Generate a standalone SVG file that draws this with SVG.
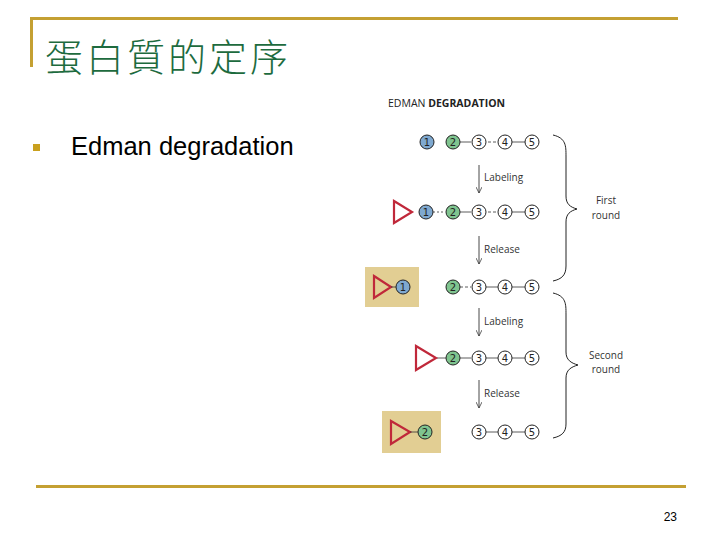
<svg xmlns="http://www.w3.org/2000/svg" width="720" height="540" viewBox="0 0 720 540">
<defs>
<style>
.res{stroke:#222;stroke-width:1;fill:#fff}
.b{fill:#7fa9d0}
.g{fill:#7fc48f}
.num{font-family:"DejaVu Sans","Liberation Sans",sans-serif;font-size:10px;fill:#222;text-anchor:middle}
.lab{font-family:"Open Sans","Liberation Sans",sans-serif;font-size:10px;fill:#333}
.bond{stroke:#333;stroke-width:0.8}
.tri{fill:none;stroke:#c0283a;stroke-width:2.2;stroke-linejoin:miter}
.box{fill:#e2ce93}
.arr{stroke:#333;stroke-width:0.9;fill:none}
.brace{stroke:#222;stroke-width:1;fill:none}
</style>
<marker id="ah" viewBox="0 0 8 8" refX="8" refY="4" markerWidth="6" markerHeight="6" orient="auto" markerUnits="userSpaceOnUse">
<path d="M0,0 L8,4 L0,8" fill="none" stroke="#333" stroke-width="1"/>
</marker>
</defs>
<rect width="720" height="540" fill="#fff"/>
<g id="frame">
<rect x="30" y="17" width="648" height="3" fill="#c4a032"/>
<rect x="30" y="17" width="3" height="50" fill="#c4a032"/>
<rect x="36" y="485" width="650" height="3" fill="#c4a032"/>
</g>
<g id="title">
<text x="45" y="71" font-family="Noto Sans CJK TC, Noto Sans CJK SC, sans-serif" font-size="38" font-weight="300" fill="#1d6b3e" letter-spacing="3">蛋白質的定序</text>
</g>
<g id="bullet">
<rect x="33" y="144" width="7" height="7" fill="#c9a01e"/>
<text x="71" y="155" font-family="Liberation Sans, Arial, sans-serif" font-size="25.5" fill="#000">Edman degradation</text>
</g>
<text id="page" x="677" y="521" font-family="Liberation Sans, Arial, sans-serif" font-size="12" fill="#000" text-anchor="end">23</text>
<g id="heading">
<text x="388" y="107" font-family="Open Sans, Liberation Sans, sans-serif" font-size="10.5" fill="#222">EDMAN <tspan font-weight="bold">DEGRADATION</tspan></text>
</g>
<g id="connectors">
<line class="bond" x1="460" y1="142" x2="471" y2="142"/>
<line class="bond" x1="488" y1="142" x2="498" y2="142" stroke-dasharray="3,2"/>
<line class="bond" x1="512" y1="142" x2="525" y2="142"/>
<line class="bond" x1="433" y1="212" x2="445" y2="212" stroke-dasharray="2,2"/>
<line class="bond" x1="460" y1="212" x2="471" y2="212"/>
<line class="bond" x1="488" y1="212" x2="498" y2="212" stroke-dasharray="3,2"/>
<line class="bond" x1="512" y1="212" x2="525" y2="212"/>
<line class="bond" x1="460" y1="287" x2="471" y2="287" stroke-dasharray="3,2"/>
<line class="bond" x1="486" y1="287" x2="498" y2="287"/>
<line class="bond" x1="512" y1="287" x2="525" y2="287"/>
<line class="bond" x1="437" y1="358" x2="446" y2="358"/>
<line class="bond" x1="460" y1="358" x2="471" y2="358"/>
<line class="bond" x1="486" y1="358" x2="498" y2="358"/>
<line class="bond" x1="512" y1="358" x2="525" y2="358"/>
<line class="bond" x1="486" y1="432" x2="498" y2="432"/>
<line class="bond" x1="512" y1="432" x2="525" y2="432"/>
<line class="arr" x1="479" y1="165" x2="479" y2="193" marker-end="url(#ah)"/>
<line class="arr" x1="479" y1="236" x2="479" y2="264" marker-end="url(#ah)"/>
<line class="arr" x1="479" y1="308" x2="479" y2="336" marker-end="url(#ah)"/>
<line class="arr" x1="479" y1="380" x2="479" y2="408" marker-end="url(#ah)"/>
<path class="brace" d="M553,135 C566,138 566,146 566,156 L566,196 C566,204 570,207 577,209 C570,211 566,214 566,222 L566,266 C566,275 562,279 553,281"/>
<path class="brace" d="M553,293 C566,296 566,304 566,314 L566,352 C566,360 571,363 578,365 C571,367 566,370 566,378 L566,424 C566,432 562,436 553,438"/>
</g>
<g id="labels">
<text class="lab" x="484" y="181">Labeling</text>
<text class="lab" x="484" y="253">Release</text>
<text class="lab" x="484" y="325">Labeling</text>
<text class="lab" x="484" y="397">Release</text>
<text class="lab" x="606" y="204" text-anchor="middle" font-size="11.5">First</text>
<text class="lab" x="606" y="219" text-anchor="middle" font-size="11.5">round</text>
<text class="lab" x="606" y="359" text-anchor="middle" font-size="11.5">Second</text>
<text class="lab" x="606" y="373" text-anchor="middle" font-size="11.5">round</text>
</g>
<g id="row1">
<circle class="res b" cx="427" cy="142" r="7"/><text class="num" x="427" y="145.5">1</text>
<circle class="res g" cx="453" cy="142" r="7"/><text class="num" x="453" y="145.5">2</text>
<circle class="res" cx="479" cy="142" r="7"/><text class="num" x="479" y="145.5">3</text>
<circle class="res" cx="505" cy="142" r="7"/><text class="num" x="505" y="145.5">4</text>
<circle class="res" cx="532" cy="142" r="7"/><text class="num" x="532" y="145.5">5</text>
</g>
<g id="row2">
<path class="tri" d="M394,201 L412,212 L394,223 Z"/>
<circle class="res b" cx="426" cy="212" r="7"/><text class="num" x="426" y="215.5">1</text>
<circle class="res g" cx="453" cy="212" r="7"/><text class="num" x="453" y="215.5">2</text>
<circle class="res" cx="479" cy="212" r="7"/><text class="num" x="479" y="215.5">3</text>
<circle class="res" cx="505" cy="212" r="7"/><text class="num" x="505" y="215.5">4</text>
<circle class="res" cx="532" cy="212" r="7"/><text class="num" x="532" y="215.5">5</text>
</g>
<g id="row3">
<rect class="box" x="365" y="267" width="54" height="40"/>
<path class="tri" d="M374,276 L391,287 L374,298 Z" stroke="#cc3322"/>
<line class="bond" x1="391" y1="287" x2="396" y2="287"/>
<circle class="res b" cx="403" cy="287" r="7"/><text class="num" x="403" y="290.5">1</text>
<circle class="res g" cx="453" cy="287" r="7"/><text class="num" x="453" y="290.5">2</text>
<circle class="res" cx="479" cy="287" r="7"/><text class="num" x="479" y="290.5">3</text>
<circle class="res" cx="505" cy="287" r="7"/><text class="num" x="505" y="290.5">4</text>
<circle class="res" cx="532" cy="287" r="7"/><text class="num" x="532" y="290.5">5</text>
</g>
<g id="row4">
<path class="tri" d="M416,346 L436,358 L416,370 Z"/>
<circle class="res g" cx="453" cy="358" r="7"/><text class="num" x="453" y="361.5">2</text>
<circle class="res" cx="479" cy="358" r="7"/><text class="num" x="479" y="361.5">3</text>
<circle class="res" cx="505" cy="358" r="7"/><text class="num" x="505" y="361.5">4</text>
<circle class="res" cx="532" cy="358" r="7"/><text class="num" x="532" y="361.5">5</text>
</g>
<g id="row5">
<rect class="box" x="382" y="411" width="59" height="42"/>
<path class="tri" d="M391,421 L410,432 L391,444 Z" stroke="#cc3322"/>
<line class="bond" x1="410" y1="432" x2="418" y2="432"/>
<circle class="res g" cx="425" cy="432" r="7"/><text class="num" x="425" y="435.5">2</text>
<circle class="res" cx="479" cy="432" r="7"/><text class="num" x="479" y="435.5">3</text>
<circle class="res" cx="505" cy="432" r="7"/><text class="num" x="505" y="435.5">4</text>
<circle class="res" cx="532" cy="432" r="7"/><text class="num" x="532" y="435.5">5</text>
</g>
</svg>
